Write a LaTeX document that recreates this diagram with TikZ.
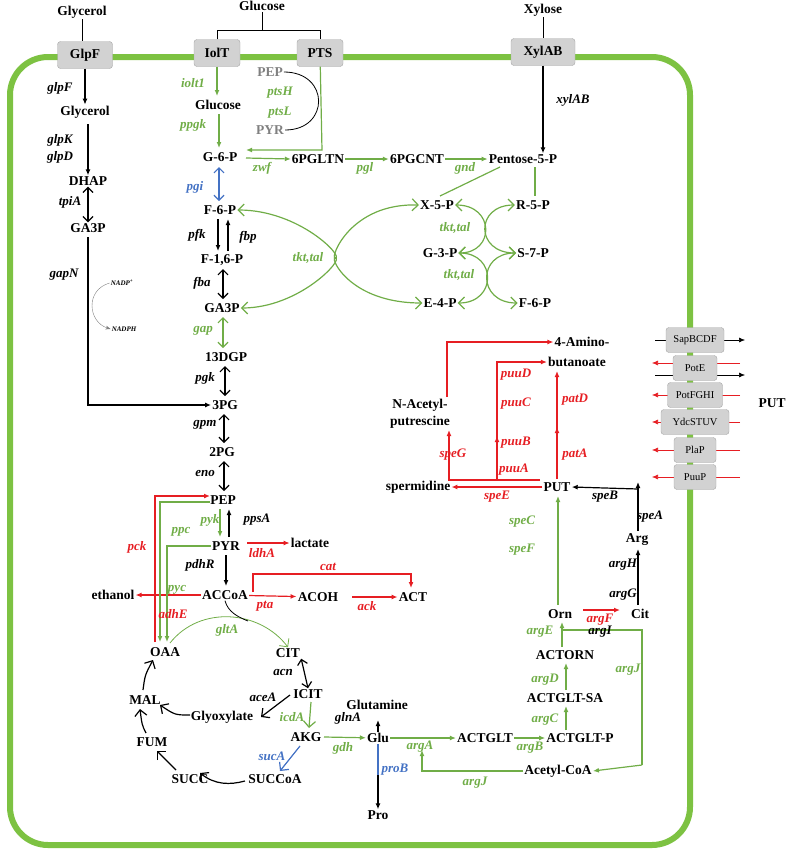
\documentclass[tikz,border=0pt]{standalone}
\usepackage{fontspec}
\setmainfont{Liberation Serif}
\usetikzlibrary{arrows.meta,positioning}
\definecolor{cellg}{RGB}{125,194,66}
\definecolor{pg}{RGB}{112,173,71}
\definecolor{pr}{RGB}{230,30,35}
\definecolor{pb}{RGB}{68,114,196}
\tikzset{
  met/.style={font=\fontsize{13.5}{15}\selectfont\bfseries,inner sep=1pt},
  enz/.style={font=\fontsize{13}{15}\selectfont\bfseries\itshape,inner sep=1pt},
  tiny/.style={font=\fontsize{7}{8}\selectfont\bfseries\itshape,inner sep=1pt},
  box/.style={draw=gray!70,fill=gray!35,rounded corners=3pt,minimum height=27pt,font=\fontsize{13.5}{15}\selectfont\bfseries},
  tbox/.style={draw=gray!70,fill=gray!35,rounded corners=3pt,minimum height=25pt,inner xsep=4pt,font=\fontsize{10.5}{12}\selectfont},
  ar/.style={-{Latex[length=6pt,width=5pt]},line width=1.2pt},
  dar/.style={{Straight Barb[length=5pt]}-{Straight Barb[length=5pt]},line width=1.2pt},
  gar/.style={ar,pg},
  rar/.style={ar,pr},
  tk/.style={pg,line width=1.2pt,{Straight Barb[length=6pt]}-{Straight Barb[length=6pt]}},
  cyc/.style={line width=1.2pt,-{Straight Barb[length=6pt]}},
}
\begin{document}
\begin{tikzpicture}[x=1pt,y=-1pt]
  \useasboundingbox (0,0) rectangle (788,855);
  % cell
  \draw[cellg,line width=6pt,rounded corners=38pt] (10,57) rectangle (690,845);

  % transporters on top membrane
  \node[met] (glyout) at (82,12) {Glycerol};
  \node[box,minimum width=55pt] (glpF) at (85,55) {GlpF};
  \node[met] (glcout) at (262,6) {Glucose};
  \node[box,minimum width=46pt] (iolT) at (217,53) {IolT};
  \node[box,minimum width=46pt] (pts) at (320,53) {PTS};
  \node[met] (xylout) at (543,10) {Xylose};
  \node[box,minimum width=64pt] (xylAB) at (543,52) {XylAB};
  \draw[thick] (glyout) -- (glyout |- glpF.north);
  \draw[thick] (xylout) -- (xylAB);
  \draw[thick] (glcout) -- (262,30);
  \draw[thick] (iolT) -- (217,30) -- (320,30) -- (pts);

  % glycerol branch
  \node[met] (gly) at (85,112) {Glycerol};
  \node[met] (dhap) at (88,181) {DHAP};
  \node[met] (ga3pa) at (88,228) {GA3P};
  \draw[ar] (glpF) -- (gly);
  \draw[ar] (88,124) -- (dhap);
  \draw[dar] (dhap) -- (ga3pa);
  \node[enz] at (60,88) {glpF};
  \node[enz] at (60,140) {glpK};
  \node[enz] at (60,157) {glpD};
  \node[enz] at (70,202) {tpiA};
  \node[enz] at (64,275) {gapN};
  \node[tiny] (nadp) at (122,283) {NADP\textsuperscript{+}};
  \node[tiny] (nadph) at (124,329) {NADPH};
  \draw[gray,-{Stealth[length=5pt]}] (nadp.west) .. controls (85,290) and (88,322) .. (nadph.west);

  % glycolysis
  \node[met] (glc) at (218,105) {Glucose};
  \node[met] (g6p) at (220,157) {G-6-P};
  \node[met] (f6p) at (220,210) {F-6-P};
  \node[met] (f16p) at (222,260) {F-1,6-P};
  \node[met] (ga3p) at (222,308) {GA3P};
  \node[met] (dgp) at (226,357) {13DGP};
  \node[met] (pg3) at (225,405) {3PG};
  \node[met] (pg2) at (222,452) {2PG};
  \node[met] (pep) at (223,500) {PEP};
  \node[met] (pyr) at (226,546) {PYR};
  \node[met] (accoa) at (225,595) {ACCoA};
  \draw[gar] (iolT) -- (217,96);
  \draw[gar] (219,114) -- (219,148);
  \draw[dar,pb] (219,167) -- (219,201);
  \draw[ar] (218,219) -- (218,251);
  \draw[ar] (228,251) -- (228,219);
  \draw[dar] (223,269) -- (223,299);
  \draw[dar,pg] (223,317) -- (223,348);
  \draw[dar] (225,366) -- (225,396);
  \draw[dar] (224,414) -- (224,443);
  \draw[dar] (224,461) -- (224,491);
  \draw[gar] (220,509) -- (220,537);
  \draw[ar] (229,537) -- (229,509);
  \draw[ar] (226,555) -- (226,586);
  \draw[ar] (88,237) -- (88,405) -- (pg3);
  \node[enz,pg] at (193,83) {iolt1};
  \node[enz,pg] at (193,125) {ppgk};
  \node[enz,pb] at (195,187) {pgi};
  \node[enz] at (197,235) {pfk};
  \node[enz] at (248,237) {fbp};
  \node[enz] at (202,283) {fba};
  \node[enz,pg] at (203,331) {gap};
  \node[enz] at (205,378) {pgk};
  \node[enz] at (205,425) {gpm};
  \node[enz] at (205,473) {eno};
  \node[enz,pg] at (210,520) {pyk};
  \node[enz] at (257,520) {ppsA};
  \node[enz] at (200,565) {pdhR};

  % PTS
  \node[met,gray] (ppep) at (270,72) {PEP};
  \node[met,gray] (ppyr) at (270,130) {PYR};
  \node[enz,pg] at (280,93) {ptsH};
  \node[enz,pg] at (280,113) {ptsL};
  \draw[thick] (ppep.east) .. controls (330,72) and (330,130) .. (ppyr.east);
  \draw[gar] (pts) -- (322,150) -- (246,150);

  % pentose phosphate
  \node[met] (pgltn) at (318,159) {6PGLTN};
  \node[met] (pgcnt) at (417,159) {6PGCNT};
  \node[met] (p5p) at (523,159) {Pentose-5-P};
  \node[met] (x5p) at (437,205) {X-5-P};
  \node[met] (r5p) at (533,205) {R-5-P};
  \node[met] (g3p) at (440,253) {G-3-P};
  \node[met] (s7p) at (533,253) {S-7-P};
  \node[met] (e4p) at (440,303) {E-4-P};
  \node[met] (f6pb) at (535,303) {F-6-P};
  \draw[gar] (246,158) -- (pgltn.west);
  \draw[gar] (pgltn) -- (pgcnt);
  \draw[gar] (pgcnt) -- (p5p);
  \draw[ar] (xylAB) -- (xylAB |- p5p.north);
  \draw[pg,line width=1.2pt] (500,167) -- (440,196);
  \draw[pg,line width=1.2pt] (535,167) -- (535,196);
  \draw[tk] (x5p.east) .. controls (495,205) and (495,253) .. (g3p.east);
  \draw[tk] (r5p.west) .. controls (475,205) and (475,253) .. (s7p.west);
  \draw[tk] (g3p.east) .. controls (497,253) and (497,303) .. (e4p.east);
  \draw[tk] (s7p.west) .. controls (477,253) and (477,303) .. (f6pb.west);
  \draw[tk] (f6p.east) .. controls (300,210) and (345,258) .. (335,258)
     .. controls (345,258) and (300,308) .. (ga3p.east);
  \draw[tk] (x5p.west) .. controls (350,203) and (330,258) .. (335,258)
     .. controls (330,258) and (350,303) .. (e4p.west);
  \node[enz,pg] at (262,168) {zwf};
  \node[enz,pg] at (365,168) {pgl};
  \node[enz,pg] at (465,168) {gnd};
  \node[enz] at (573,100) {xylAB};
  \node[enz,pg] at (455,228) {tkt,tal};
  \node[enz,pg] at (459,275) {tkt,tal};
  \node[enz,pg] at (308,258) {tkt,tal};

  % fermentation
  \node[met] (lac) at (310,543) {lactate};
  \node[met] (etoh) at (113,595) {ethanol};
  \node[met] (acoh) at (318,597) {ACOH};
  \node[met] (act) at (413,597) {ACT};
  \draw[rar] (247,543) -- (lac);
  \draw[rar] (accoa) -- (etoh);
  \draw[rar] (accoa) -- (acoh);
  \draw[rar] (352,597) -- (act);
  \draw[rar] (253,592) -- (253,574) -- (411,574) -- (411,588);
  \node[enz,pr] at (262,553) {ldhA};
  \node[enz,pr] at (328,567) {cat};
  \node[enz,pr] at (265,606) {pta};
  \node[enz,pr] at (367,606) {ack};

  % TCA
  \node[met] (oaa) at (165,652) {OAA};
  \node[met] (cit) at (288,653) {CIT};
  \node[met] (icit) at (308,694) {ICIT};
  \node[met] (glyox) at (222,717) {Glyoxylate};
  \node[met] (akg) at (306,737) {AKG};
  \node[met] (mal) at (145,700) {MAL};
  \node[met] (fum) at (152,742) {FUM};
  \node[met] (succ) at (190,779) {SUCC};
  \node[met] (succoa) at (275,779) {SUCCoA};
  \draw[pg,thick,-{Straight Barb[length=6pt]}] (170,643) .. controls (200,605) and (260,610) .. (cit.north);
  \draw[thick] (accoa.south) .. controls (228,612) and (238,617) .. (248,621);
  \draw[dar] (cit.south east) -- (icit.north);
  \draw[pg,cyc] (311,702) -- (309,728);
  \draw[pb,cyc] (300,746) -- (280,771);
  \draw[cyc] (245,781) .. controls (230,785) and (215,785) .. (200,773);
  \draw[cyc] (176,770) -- (157,751);
  \draw[cyc] (146,733) .. controls (142,725) .. (140,709);
  \draw[cyc] (143,690) .. controls (145,675) .. (153,660);
  \draw[cyc] (190,715) .. controls (175,715) .. (160,705);
  \draw[cyc] (290,695) -- (261,717);
  \draw[rar] (155,642) -- (155,496) -- (210,496);
  \draw[gar] (210,502) -- (160,502) -- (160,642);
  \draw[gar] (211,546) -- (167,546) -- (167,642);
  \node[enz,pr] at (137,547) {pck};
  \node[enz,pg] at (181,532) {ppc};
  \node[enz,pg] at (177,590) {pyc};
  \node[enz,pr] at (173,614) {adhE};
  \node[enz,pg] at (227,630) {gltA};
  \node[enz] at (283,672) {acn};
  \node[enz] at (263,697) {aceA};
  \node[enz,pg] at (292,717) {icdA};
  \node[enz,pb] at (272,756) {sucA};

  % glutamate / arginine
  \node[met] (gln) at (377,705) {Glutamine};
  \node[met] (glu) at (378,738) {Glu};
  \node[met] (pro) at (378,815) {Pro};
  \node[met] (actglt) at (485,738) {ACTGLT};
  \node[met] (actgltp) at (580,738) {ACTGLT-P};
  \node[met] (actgltsa) at (565,698) {ACTGLT-SA};
  \node[met] (actorn) at (565,655) {ACTORN};
  \node[met] (orn) at (560,614) {Orn};
  \node[met] (cit2) at (640,614) {Cit};
  \node[met] (arg) at (637,540) {Arg};
  \node[met] (acoa) at (558,771) {Acetyl-CoA};
  \draw[gar] (324,737) -- (glu);
  \draw[ar] (glu) -- (378,720);
  \draw[pb,line width=1.2pt] (glu) -- (378,782);
  \draw[ar] (378,775) -- (pro);
  \draw[gar] (glu) -- (actglt);
  \draw[gar] (actglt) -- (actgltp);
  \draw[gar] (566,730) -- (566,706);
  \draw[gar] (566,690) -- (566,663);
  \draw[gar] (562,647) -- (562,622);
  \draw[pg,line width=1.2pt] (562,630) -- (642,630) -- (642,765) coordinate (aj2);
  \draw[gar] (aj2) -- (acoa.east);
  \draw[gar] (acoa.west) -- (422,771) -- (422,750);
  \draw[rar] (583,610) -- (620,610);
  \draw[ar] (638,605) -- (638,549);
  \node[enz,pg] at (420,747) {argA};
  \node[enz,pg] at (530,748) {argB};
  \node[enz,pg] at (545,720) {argC};
  \node[enz,pg] at (545,680) {argD};
  \node[enz,pg] at (540,632) {argE};
  \node[enz,pr] at (600,620) {argF};
  \node[enz] at (600,632) {argI};
  \node[enz,pg] at (628,670) {argJ};
  \node[enz,pg] at (475,783) {argJ};
  \node[enz] at (348,718) {glnA};
  \node[enz,pg] at (343,748) {gdh};
  \node[enz,pb] at (395,770) {proB};

  % putrescine
  \node[met] (put) at (557,487) {PUT};
  \node[met] (spd) at (418,487) {spermidine};
  \node[met] (nap1) at (420,405) {N-Acetyl-};
  \node[met] (nap2) at (420,422) {putrescine};
  \node[met] (amino) at (582,342) {4-Amino-};
  \node[met] (buta) at (577,362) {butanoate};
  \draw[gar] (558,605) -- (558,496);
  \draw[ar] (638,531) -- (638,482);
  \draw[ar] (638,489) -- (put.east);
  \draw[rar] (put) -- (spd);
  \draw[rar] (540,480) -- (449,480) -- (449,430);
  \draw[rar] (447,397) -- (447,342) -- (amino.west);
  \draw[rar] (497,480) -- (497,436);
  \draw[rar] (497,440) -- (497,362) -- (buta.west);
  \draw[rar] (557,479) -- (557,427);
  \draw[rar] (557,430) -- (557,371);
  \node[enz,pr] at (453,455) {speG};
  \node[enz,pr] at (497,497) {speE};
  \node[enz,pr] at (514,470) {puuA};
  \node[enz,pr] at (516,443) {puuB};
  \node[enz,pr] at (516,404) {puuC};
  \node[enz,pr] at (516,375) {puuD};
  \node[enz,pr] at (575,455) {patA};
  \node[enz,pr] at (575,400) {patD};
  \node[enz,pg] at (522,522) {speC};
  \node[enz,pg] at (522,550) {speF};
  \node[enz] at (605,497) {speB};
  \node[enz] at (650,517) {speA};
  \node[enz] at (623,565) {argH};
  \node[enz] at (623,595) {argG};

  % putrescine transporters
  \draw[ar,semithick] (655,340) -- (745,340);
  \draw[ar,semithick] (655,375) -- (745,375);
  \foreach \y in {363,395,422,450,477}
    \draw[rar,semithick] (740,\y) -- (652,\y);
  \node[tbox,minimum width=58pt] (sap) at (695,340) {SapBCDF};
  \node[tbox,minimum width=44pt] (pote) at (695,368) {PotE};
  \node[tbox,minimum width=55pt] (potf) at (695,395) {PotFGHI};
  \node[tbox,minimum width=68pt] (ydc) at (695,422) {YdcSTUV};
  \node[tbox,minimum width=42pt] (plap) at (695,450) {PlaP};
  \node[tbox,minimum width=42pt] (puup) at (695,477) {PuuP};
  \node[met] (putout) at (772,403) {PUT};
\end{tikzpicture}
\end{document}
